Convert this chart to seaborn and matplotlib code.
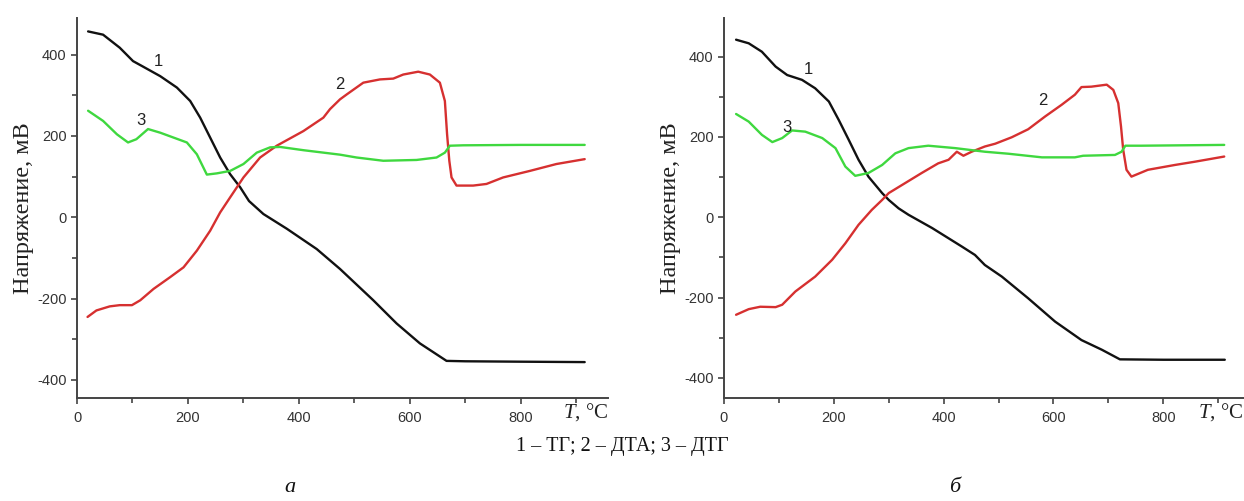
import numpy as np
import pandas as pd
import matplotlib
matplotlib.use("Agg")
import matplotlib.pyplot as plt
from matplotlib.ticker import MultipleLocator
import seaborn as sns

# panel "а": TG (1), DTA (2), DTG (3)
a_tg_t = [20, 47, 77, 101, 117, 150, 180, 204, 222, 240, 258, 276, 294, 310, 336, 378,
          432, 474, 534, 576, 618, 666, 700, 800, 915]
a_tg_v = [457, 449, 417, 384, 372, 347, 319, 286, 245, 196, 147, 106, 74, 40, 8, -28,
          -78, -127, -204, -261, -310, -353, -354, -355, -356]

a_dta_t = [19, 35, 59, 77, 99, 114, 138, 168, 192, 216, 240, 258, 276, 300, 330, 360, 408,
           444, 456, 474, 486, 516, 546, 570, 588, 615, 636, 654, 663, 667, 671, 675, 684,
           714, 738, 768, 816, 864, 915]
a_dta_v = [-245, -229, -219, -216, -216, -204, -176, -147, -123, -82, -33, 12, 49, 98, 147,
           176, 212, 245, 266, 290, 302, 331, 339, 341, 351, 358, 351, 331, 286, 204, 139,
           98, 78, 78, 82, 98, 114, 131, 143]

a_dtg_t = [20, 47, 72, 92, 107, 128, 150, 174, 198, 216, 234, 252, 276, 300, 324, 348, 366,
           408, 444, 474, 504, 552, 612, 648, 663, 672, 696, 800, 915]
a_dtg_v = [262, 237, 204, 184, 192, 217, 208, 196, 184, 155, 105, 108, 114, 131, 159, 172,
           173, 165, 159, 154, 147, 139, 141, 147, 159, 176, 177, 178, 178]

# panel "б"
b_tg_t = [22, 45, 69, 94, 115, 142, 166, 191, 209, 227, 245, 263, 288, 300, 318, 336, 379,
          433, 457, 475, 506, 554, 603, 651, 688, 721, 800, 912]
b_tg_v = [442, 433, 412, 375, 354, 342, 321, 288, 242, 193, 143, 101, 60, 43, 22, 6, -27,
          -73, -94, -119, -148, -202, -260, -306, -330, -354, -355, -355]

b_dta_t = [22, 45, 66, 94, 106, 130, 166, 197, 221, 245, 269, 288, 300, 330, 360, 390, 409,
           424, 436, 451, 475, 494, 524, 554, 585, 615, 639, 651, 669, 697, 709, 718, 723,
           727, 733, 742, 772, 821, 857, 911]
b_dta_v = [-243, -229, -223, -224, -218, -185, -148, -106, -65, -19, 18, 43, 60, 85, 110,
           134, 143, 163, 153, 163, 176, 183, 199, 219, 251, 280, 305, 324, 325, 330, 317,
           284, 226, 168, 118, 101, 118, 130, 138, 151]

b_dtg_t = [22, 45, 69, 88, 106, 124, 148, 179, 203, 221, 239, 263, 288, 312, 336, 372, 421,
           475, 518, 579, 639, 654, 712, 724, 731, 760, 911]
b_dtg_v = [257, 238, 205, 187, 197, 216, 213, 197, 172, 126, 103, 110, 130, 159, 172, 178,
           172, 163, 158, 149, 149, 153, 155, 163, 178, 178, 180]

# curve number labels (T, V)
a_labels = {"1": (146, 384), "2": (474, 327), "3": (115, 237)}
b_labels = {"1": (154, 369), "2": (581, 290), "3": (114, 224)}

c_tg, c_dta, c_dtg = "#111111", "#d63030", "#3fd83f"

sns.set_theme(style="ticks")
plt.rcParams["font.family"] = ["Liberation Sans", "DejaVu Sans"]
plt.rcParams["axes.unicode_minus"] = False
plt.rcParams["mathtext.fontset"] = "custom"
plt.rcParams["mathtext.it"] = "Liberation Serif:italic"
plt.rcParams["mathtext.rm"] = "Liberation Serif"
serif = ["Liberation Serif", "DejaVu Serif"]

fig = plt.figure(figsize=(12.44, 5.01), dpi=100)
ax_a = fig.add_axes([77 / 1244, 102.7 / 501, 531 / 1244, 380.3 / 501])
ax_b = fig.add_axes([724 / 1244, 102.7 / 501, 520 / 1244, 380.3 / 501])


def draw(ax, tg, dta, dtg, labels, xmax, ylim):
    for (t, v), col in zip([tg, dta, dtg], [c_tg, c_dta, c_dtg]):
        df = pd.DataFrame({"T": t, "V": v})
        sns.lineplot(data=df, x="T", y="V", color=col, lw=1.7, sort=False,
                     estimator=None, ax=ax)
    for k, (t, v) in labels.items():
        ax.text(t, v, k, fontsize=12, color="#222222", ha="center", va="center")
    ax.set_xlim(0, xmax)
    ax.set_ylim(*ylim)
    ax.set_xticks([0, 200, 400, 600, 800])
    ax.set_yticks([-400, -200, 0, 200, 400])
    ax.xaxis.set_minor_locator(MultipleLocator(100))
    ax.yaxis.set_minor_locator(MultipleLocator(100))
    ax.tick_params(which="major", length=4, width=1.2, labelsize=10.5,
                   labelcolor="#333333", color="#444444")
    ax.tick_params(which="minor", length=3.5, width=1.2, color="#444444")
    ax.tick_params(axis="x", pad=5)
    for s in ["left", "bottom"]:
        ax.spines[s].set_linewidth(1.4)
        ax.spines[s].set_color("#444444")
    sns.despine(ax=ax)
    ax.set_xlabel("")
    ax.set_ylabel("Напряжение, мВ", family=serif, fontsize=17.5, color="#222222", labelpad=2)


draw(ax_a, (a_tg_t, a_tg_v), (a_dta_t, a_dta_v), (a_dtg_t, a_dtg_v), a_labels, 957, (-445, 490))
draw(ax_b, (b_tg_t, b_tg_v), (b_dta_t, b_dta_v), (b_dtg_t, b_dtg_v), b_labels, 947, (-451, 496))

# axis titles "T, °C"
for x in [608 / 1244, 1243 / 1244]:
    fig.text(x, (501 - 412) / 501, r"$T$, °C", family=serif, fontsize=15,
             ha="right", va="center", color="#222222")

fig.text(622 / 1244, (501 - 447) / 501, "1 – ТГ; 2 – ДТА; 3 – ДТГ", family=serif,
         fontsize=14.5, ha="center", va="center", color="#111111")
fig.text(290 / 1244, (501 - 487) / 501, "а", family=serif, style="italic", fontsize=16,
         ha="center", va="center", color="#111111")
fig.text(955 / 1244, (501 - 487) / 501, "б", family=serif, style="italic", fontsize=16,
         ha="center", va="center", color="#111111")

fig.savefig("out.png", dpi=100, facecolor="white")
